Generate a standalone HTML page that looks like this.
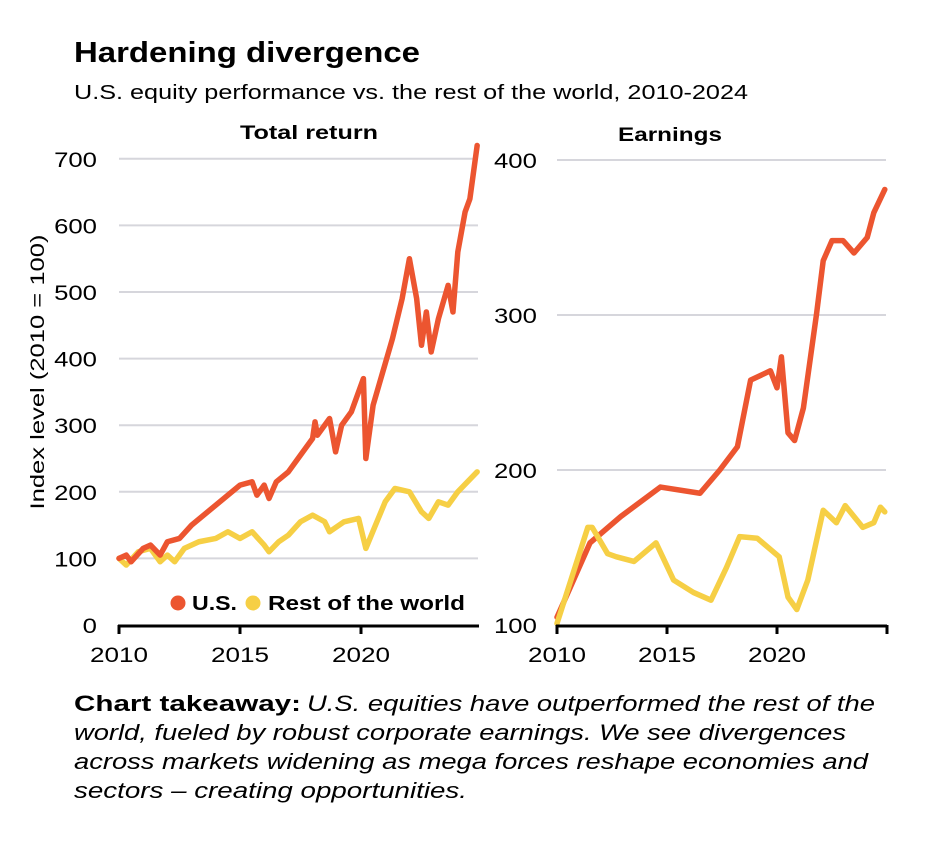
<!DOCTYPE html>
<html><head><meta charset="utf-8"><style>
body{margin:0;background:#fff;font-family:"Liberation Sans",sans-serif;}
svg{display:block}
text{font-family:"Liberation Sans",sans-serif;fill:#000}
.tk{font-size:21px}
</style></head><body>
<svg id="c" width="928" height="844">
<text x="74" y="62" font-size="29" font-weight="bold" textLength="346" lengthAdjust="spacingAndGlyphs">Hardening divergence</text>
<text x="74" y="99" font-size="20" textLength="674" lengthAdjust="spacingAndGlyphs">U.S. equity performance vs. the rest of the world, 2010-2024</text>
<text x="240" y="139" font-size="19" font-weight="bold" textLength="138" lengthAdjust="spacingAndGlyphs">Total return</text>
<text x="618" y="141" font-size="19" font-weight="bold" textLength="104" lengthAdjust="spacingAndGlyphs">Earnings</text>
<text transform="translate(44,372) rotate(-90)" font-size="19" text-anchor="middle" textLength="275" lengthAdjust="spacingAndGlyphs">Index level (2010 = 100)</text>
<g id="g1"></g><g id="g2"></g>
<circle cx="178" cy="603" r="7.5" fill="#ec5530"/>
<text x="192" y="610" font-size="20" font-weight="bold" textLength="45" lengthAdjust="spacingAndGlyphs">U.S.</text>
<circle cx="253" cy="603" r="7.5" fill="#f6cf45"/>
<text x="268" y="610" font-size="20" font-weight="bold" textLength="197" lengthAdjust="spacingAndGlyphs">Rest of the world</text>
<g font-size="22">
<text x="74" y="711" font-weight="bold" textLength="227" lengthAdjust="spacingAndGlyphs">Chart takeaway:</text>
<text x="307" y="711" font-style="italic" textLength="568" lengthAdjust="spacingAndGlyphs">U.S. equities have outperformed the rest of the</text>
<text x="74" y="740" font-style="italic" textLength="772" lengthAdjust="spacingAndGlyphs">world, fueled by robust corporate earnings. We see divergences</text>
<text x="74" y="769" font-style="italic" textLength="794" lengthAdjust="spacingAndGlyphs">across markets widening as mega forces reshape economies and</text>
<text x="74" y="798" font-style="italic" textLength="393" lengthAdjust="spacingAndGlyphs">sectors – creating opportunities.</text>
</g>
</svg>
<script>
const trUsYears=[2010,2010.3,2010.5,2011,2011.3,2011.7,2012,2012.5,2013,2013.5,2014,2014.5,2015,2015.5,2015.7,2016,2016.2,2016.5,2017,2017.5,2018,2018.1,2018.2,2018.7,2018.95,2019.2,2019.6,2020.1,2020.2,2020.5,2020.9,2021.3,2021.7,2022,2022.3,2022.5,2022.7,2022.9,2023.2,2023.6,2023.8,2024,2024.3,2024.5,2024.8];
const trUsValues=[100,105,95,115,120,105,125,130,150,165,180,195,210,215,195,210,190,215,230,255,280,305,285,310,260,300,320,370,250,330,380,430,490,550,490,420,470,410,460,510,470,560,620,640,720];
const trRowYears=[2010,2010.3,2010.8,2011.3,2011.7,2012,2012.3,2012.7,2013.3,2014,2014.5,2015,2015.5,2016,2016.2,2016.6,2017,2017.5,2018,2018.5,2018.7,2019.3,2019.9,2020.2,2020.6,2021,2021.4,2022,2022.5,2022.8,2023.2,2023.6,2024,2024.4,2024.8];
const trRowValues=[100,90,110,115,95,105,95,115,125,130,140,130,140,120,110,125,135,155,165,155,140,155,160,115,150,185,205,200,170,160,185,180,200,215,230];
const trTicks=[0,100,200,300,400,500,600,700];
const erUsYears=[2010,2011.5,2012.9,2014.7,2016.5,2017.4,2018.2,2018.8,2019.7,2020,2020.2,2020.5,2020.8,2021.2,2021.8,2022.1,2022.5,2023,2023.5,2024.1,2024.4,2024.9];
const erUsValues=[105,153,170,189,185,200,215,258,264,253,273,224,219,240,301,335,348,348,340,350,366,381];
const erRowYears=[2010,2011.4,2011.6,2012.3,2012.7,2013.5,2014.5,2015.3,2016.2,2017,2017.7,2018.3,2019.1,2020.1,2020.5,2020.9,2021.4,2022.1,2022.7,2023.1,2023.9,2024.4,2024.7,2024.9];
const erRowValues=[101,163,163,146,144,141,153,129,121,116,137,157,156,144,118,110,129,174,166,177,163,166,176,173];
const erTicks=[100,200,300,400];
const xTicks=[2010,2015,2020];
const NS="http://www.w3.org/2000/svg";
function mk(g,tag,attrs){const e=document.createElementNS(NS,tag);for(const k in attrs)e.setAttribute(k,attrs[k]);g.appendChild(e);return e;}
function panel(gid,x0,pxYear,xEnd,yBase,vBase,pxUnit,ticks,tickX,anchor,series,name){
  const g=document.getElementById(gid);
  const X=y=>x0+(y-2010)*pxYear, Y=v=>yBase-(v-vBase)*pxUnit;
  ticks.forEach(t=>{
    if(t!==vBase){const l=mk(g,'line',{x1:x0,x2:xEnd,y1:Y(t),y2:Y(t),stroke:'#d6d6dc','stroke-width':2});
    
    }
    const s=String(t);
    const tx=mk(g,'text',{x:tickX,y:Y(t)+8,'class':'tk','text-anchor':anchor,textLength:s.length*14.3,lengthAdjust:'spacingAndGlyphs'});tx.textContent=s;
    
    
  });
  series.forEach(s=>{
    const p=mk(g,'polyline',{points:s.x.map((v,i)=>X(v)+','+Y(s.y[i])).join(' '),fill:'none',stroke:s.c,'stroke-width':5.5,'stroke-linejoin':'round','stroke-linecap':'round'});
    
    
  });
  const ax=mk(g,'line',{x1:x0-1,x2:xEnd+1,y1:yBase+1,y2:yBase+1,stroke:'#000','stroke-width':3});
  
  
  [2010,2015,2020,2025].forEach(t=>{if(X(t)<=xEnd+3){const tk=mk(g,'line',{x1:X(t),x2:X(t),y1:yBase,y2:yBase+9,stroke:'#000','stroke-width':3});
    
    }});
  xTicks.forEach(t=>{const tx=mk(g,'text',{x:X(t)-29,y:yBase+37,'class':'tk',textLength:58,lengthAdjust:'spacingAndGlyphs'});tx.textContent=t;
    
    });
}
panel('g1',119,24.2,478,625,0,0.666,trTicks,97,'end',[{x:trRowYears,y:trRowValues,c:'#f6cf45',n:'row'},{x:trUsYears,y:trUsValues,c:'#ec5530',n:'us'}],'total-return');
panel('g2',557,22,886,625,100,1.55,erTicks,494,'start',[{x:erUsYears,y:erUsValues,c:'#ec5530',n:'us'},{x:erRowYears,y:erRowValues,c:'#f6cf45',n:'row'}],'earnings');
</script>
</body></html>
